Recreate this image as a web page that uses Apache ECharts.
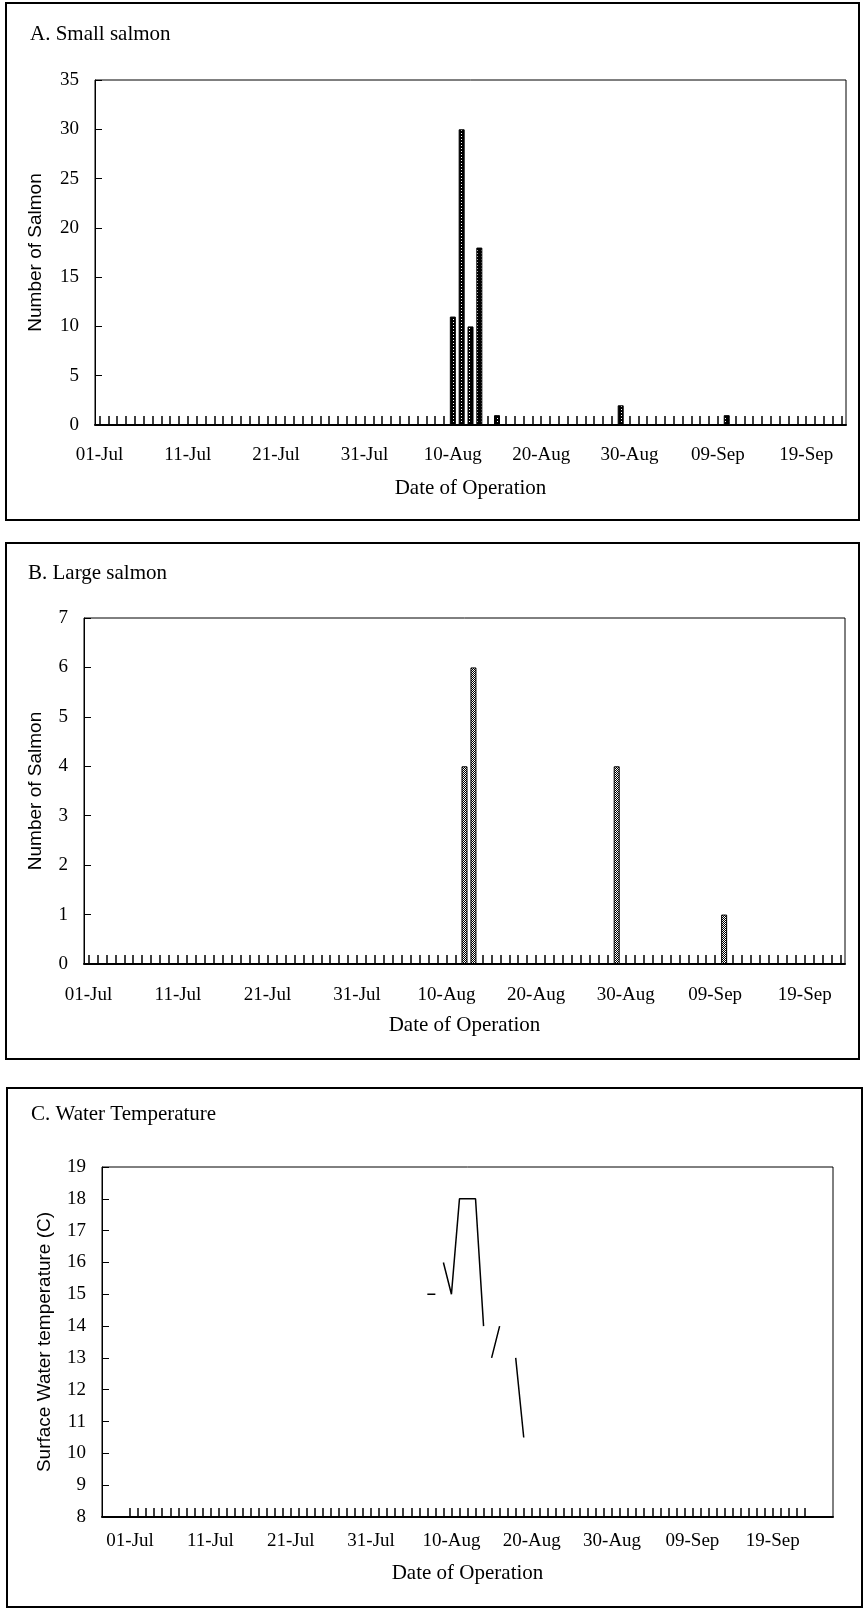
<!DOCTYPE html>
<html>
<head>
<meta charset="utf-8">
<script src="https://cdn.jsdelivr.net/npm/echarts@6.0.0/dist/echarts.min.js"></script>
<style>
  html, body { margin: 0; padding: 0; background: #fff; }
  #chart { width: 864px; height: 1610px; }
</style>
</head>
<body>
<div id="chart"></div>
<script>
// days of operation: 01-Jul .. 23-Sep
const months = [['Jul', 31], ['Aug', 31], ['Sep', 23]]
const operationDays = []
months.forEach(([m, n]) => {
  for (let d = 1; d <= n; d++) operationDays.push(String(d).padStart(2, '0') + '-' + m)
})

const dateTicks = ['01-Jul', '11-Jul', '21-Jul', '31-Jul', '10-Aug', '20-Aug', '30-Aug', '09-Sep', '19-Sep']

// A. small salmon
const smallDates = ['10-Aug', '11-Aug', '12-Aug', '13-Aug', '15-Aug', '29-Aug', '10-Sep']
const smallCounts = [11, 30, 10, 18, 1, 2, 1]

// B. large salmon
const largeDates = ['12-Aug', '13-Aug', '29-Aug', '10-Sep']
const largeCounts = [4, 6, 4, 1]

// C. surface water temperature (null = break in the line)
const tempDates = ['07-Aug', '08-Aug', '08-Aug', '09-Aug', '10-Aug', '11-Aug', '12-Aug', '13-Aug', '14-Aug',
  '14-Aug', '15-Aug', '16-Aug', '16-Aug', '18-Aug', '19-Aug']
const tempValues = [15, 15, null, 16, 15, 18, 18, 18, 14, null, 13, 14, null, 13, 10.5]

const SERIF = 'Liberation Serif, Times New Roman, serif'
const SANS = 'Liberation Sans, Arial, sans-serif'

const byDay = (dates, vals) => operationDays.map(d => {
  const i = dates.indexOf(d)
  return i < 0 ? null : vals[i]
})

function pattern(w, h, draw) {
  const c = document.createElement('canvas')
  c.width = w
  c.height = h
  const ctx = c.getContext('2d')
  draw(ctx)
  return { image: c, repeat: 'repeat' }
}
// dark bars with white dots
const darkFill = pattern(4, 3, ctx => {
  ctx.fillStyle = '#000'; ctx.fillRect(0, 0, 4, 3)
  ctx.fillStyle = '#fff'; ctx.fillRect(1, 1, 1, 1)
})
// checkered grey bars
const checkFill = pattern(2, 2, ctx => {
  ctx.fillStyle = '#fff'; ctx.fillRect(0, 0, 2, 2)
  ctx.fillStyle = '#000'; ctx.fillRect(1, 0, 1, 1); ctx.fillRect(0, 1, 1, 1)
})

const tickLabel = { color: '#000', fontFamily: SERIF, fontSize: 19 }
const gridBase = { show: true, borderColor: '#000', borderWidth: 1, backgroundColor: '#fff' }

const catAxis = (gridIndex, margin, nameGap) => ({
  type: 'category',
  gridIndex,
  data: operationDays,
  boundaryGap: true,
  axisLine: { lineStyle: { color: '#000', width: 2 } },
  axisTick: { show: true, inside: true, alignWithLabel: true, interval: 0, length: 9, lineStyle: { color: '#000', width: 1.5 } },
  axisLabel: { ...tickLabel, margin, interval: (i, v) => dateTicks.includes(v) },
  name: 'Date of Operation',
  nameLocation: 'middle',
  nameGap,
  nameTextStyle: { color: '#000', fontFamily: SERIF, fontSize: 21 }
})

const valAxis = (gridIndex, min, max, interval, name, nameGap) => ({
  type: 'value',
  gridIndex,
  min, max, interval,
  axisLine: { show: true, onZero: false, lineStyle: { color: '#000', width: 1 } },
  axisTick: { show: true, inside: true, length: 7, lineStyle: { color: '#000' } },
  axisLabel: { ...tickLabel, margin: 16 },
  splitLine: { show: false },
  name,
  nameLocation: 'middle',
  nameGap,
  nameTextStyle: { color: '#000', fontFamily: SANS, fontSize: 19 }
})

const panelBox = (x, y, w, h) => ({
  type: 'rect',
  shape: { x, y, width: w, height: h },
  style: { fill: null, stroke: '#000', lineWidth: 2 },
  silent: true
})

const titleStyle = { color: '#000', fontFamily: SERIF, fontSize: 21, fontWeight: 'normal' }

const option = {
  backgroundColor: '#fff',
  animation: false,
  title: [
    { text: 'A. Small salmon', left: 25, top: 19, textStyle: titleStyle },
    { text: 'B. Large salmon', left: 23, top: 558, textStyle: titleStyle },
    { text: 'C. Water Temperature', left: 26, top: 1099, textStyle: titleStyle }
  ],
  graphic: [
    panelBox(6, 3, 853, 517),
    panelBox(6, 543, 853, 516),
    panelBox(7, 1088, 855, 519)
  ],
  grid: [
    { ...gridBase, left: 95, right: 18, top: 80, height: 345 },
    { ...gridBase, left: 84, right: 19, top: 618, height: 346 },
    { ...gridBase, left: 102, right: 31, top: 1167, height: 350 }
  ],
  xAxis: [
    catAxis(0, 21, 53),
    catAxis(1, 22, 51),
    {
      type: 'value',
      gridIndex: 2,
      min: -3.5,
      max: 87.5,
      axisLine: { show: true, onZero: false, lineStyle: { color: '#000', width: 2 } },
      axisTick: {
        show: true, inside: true, length: 9, lineStyle: { color: '#000', width: 1.5 },
        customValues: operationDays.map((d, i) => i)
      },
      axisLabel: {
        ...tickLabel, margin: 15,
        customValues: dateTicks.map(d => operationDays.indexOf(d)),
        formatter: v => operationDays[v]
      },
      splitLine: { show: false },
      name: 'Date of Operation',
      nameLocation: 'middle',
      nameGap: 46,
      nameTextStyle: { color: '#000', fontFamily: SERIF, fontSize: 21 }
    }
  ],
  yAxis: [
    valAxis(0, 0, 35, 5, 'Number of Salmon', 50),
    valAxis(1, 0, 7, 1, 'Number of Salmon', 39),
    valAxis(2, 8, 19, 1, 'Surface Water temperature (C)', 48)
  ],
  series: [
    {
      name: 'Small salmon',
      type: 'bar',
      xAxisIndex: 0, yAxisIndex: 0,
      barWidth: 6,
      data: byDay(smallDates, smallCounts),
      itemStyle: { color: darkFill, borderColor: '#000', borderWidth: 1 }
    },
    {
      name: 'Large salmon',
      type: 'bar',
      xAxisIndex: 1, yAxisIndex: 1,
      barWidth: 6,
      data: byDay(largeDates, largeCounts),
      itemStyle: { color: checkFill, borderColor: '#000', borderWidth: 1 }
    },
    {
      name: 'Water temperature',
      type: 'line',
      xAxisIndex: 2, yAxisIndex: 2,
      showSymbol: false,
      connectNulls: false,
      data: tempDates.map((d, i) => [operationDays.indexOf(d), tempValues[i] == null ? '-' : tempValues[i]]),
      lineStyle: { color: '#000', width: 1.5 }
    }
  ]
}

const chart = echarts.init(document.getElementById('chart'), null, { renderer: 'canvas' })
chart.setOption(option)
</script>
</body>
</html>
